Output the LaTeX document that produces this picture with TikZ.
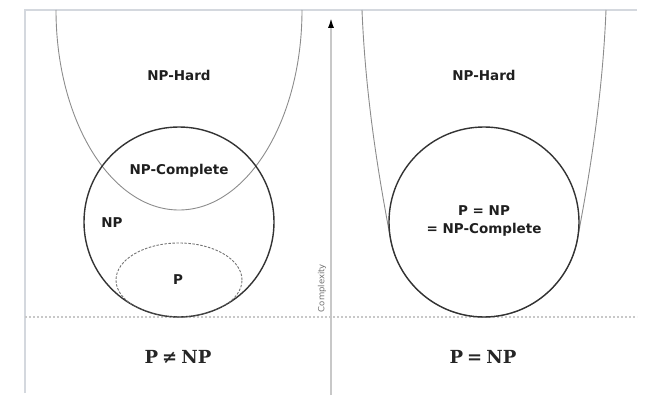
\documentclass[tikz,border=0pt]{standalone}
\usepackage{fontspec}
\newfontfamily\dvs{DejaVu Sans}
\newfontfamily\dvserif{DejaVu Serif}
\usetikzlibrary{arrows.meta}
\definecolor{framegray}{RGB}{212,216,222}
\definecolor{axisgray}{RGB}{200,200,200}
\definecolor{dotgray}{RGB}{200,200,200}
\begin{document}
\begin{tikzpicture}[x=1pt,y=1pt,
  lbl/.style={font=\dvs\fontsize{13.5}{16}\selectfont\bfseries, text=black!88, inner sep=0pt, align=center},
  res/.style={font=\dvserif\fontsize{18}{22}\selectfont\bfseries, text=black!85, inner sep=0pt},
  framestyle/.style={draw=framegray, line width=2pt},
  hardcurve/.style={draw=black!45, line width=0.9pt},
  classline/.style={draw=black!80, line width=1.4pt},
  classcircle/.style={classline, circle, minimum size=190pt, inner sep=0pt},
  pset/.style={draw=black!55, line width=0.9pt, dash pattern=on 2.5pt off 1.5pt},
  baseline dots/.style={draw=dotgray, line width=1.2pt, dash pattern=on 2pt off 2pt},
]
\useasboundingbox (0,0) rectangle (653,-404);
% frame
\coordinate (fbl) at (25,-393);
\coordinate (ftl) at (25,-10);
\coordinate (ftr) at (637,-10);
\draw[framestyle] (fbl) -- (ftl) -- (ftr);
% dotted baseline
\coordinate (dl) at (25,-317);
\coordinate (dr) at (637,-317);
\draw[baseline dots] (dl) -- (dr);
% axis
\coordinate (axbot) at (331,-395);
\coordinate (axtop) at (331,-17);
\draw[draw=axisgray, line width=2.5pt, -{Latex[length=11pt,width=6pt,color=black]}] (axbot) -- (axtop);
\node[rotate=90, font=\dvs\fontsize{8.5}{10}\selectfont, text=black!55, inner sep=0pt] (cplx) at (322,-288) {Complexity};

% ---------- left: P != NP ----------
\coordinate (uLs) at (56,-10);
\draw[hardcurve] (uLs) arc[start angle=180, end angle=360, x radius=123, y radius=200];
\node[classcircle] (npL) at (179,-222) {};
\begin{scope}
  \clip (npL) circle (95);
  \draw[pset] (179,-280) ellipse (63 and 37);
\end{scope}
\node[lbl] (hardL) at (179,-75) {NP-Hard};
\node[lbl] (npcL) at (179,-171) {NP-Complete};
\node[lbl] (npLabel) at (112,-223) {NP};
\node[lbl] (pL) at (178,-280) {P};
\node[res] (neq) at (178,-357) {P\hspace{4pt}≠\hspace{4pt}NP};

% ---------- right: P = NP ----------
\coordinate (npR) at (484,-222);
\coordinate (uRs) at (362,-10);
\coordinate (uRe) at (606,-10);
\draw[hardcurve] (uRs) .. controls (366,-110) and (383,-198) .. ([shift={(190:95)}]npR)
  arc[start angle=190, end angle=350, radius=95]
  .. controls (585,-198) and (602,-110) .. (uRe);
\draw[classline] (npR) circle (95);
\node[lbl] (hardR) at (484,-75) {NP-Hard};
\node[lbl] (eqCirc) at (484,-221) {P = NP\\[2pt]= NP-Complete};
\node[res] (eq) at (483,-357) {P\hspace{4pt}=\hspace{4pt}NP};
\end{tikzpicture}
\end{document}
